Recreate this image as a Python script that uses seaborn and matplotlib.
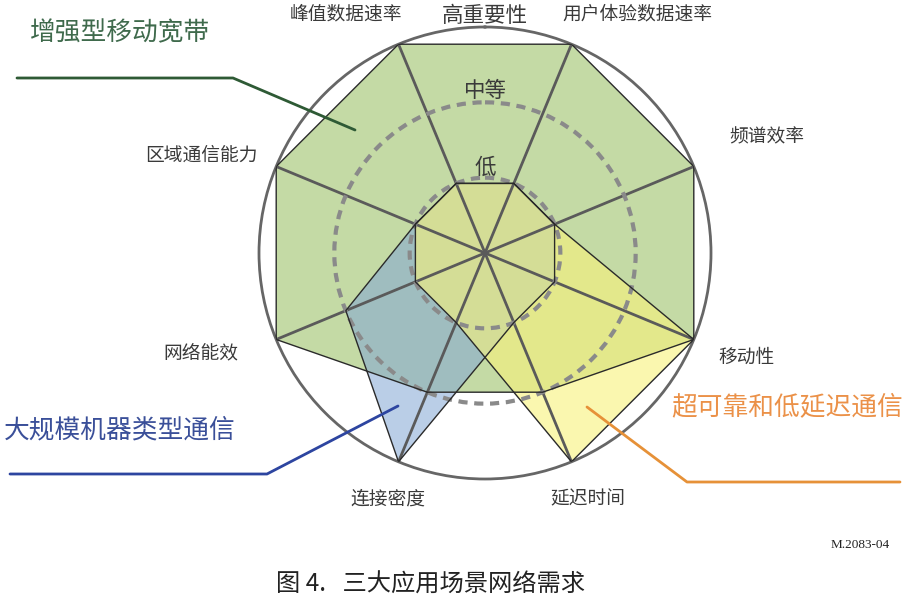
import numpy as np
import matplotlib
matplotlib.use('agg')
import matplotlib.pyplot as plt
import seaborn as sns

# key capabilities (clockwise from top-left)
capabilities = ['峰值数据速率', '用户体验数据速率', '频谱效率', '移动性',
                '延迟时间', '连接密度', '网络能效', '区域通信能力']
# importance: 1 = 低, 2 = 中等, 3 = 高重要性
embb = [3, 3, 3, 3, 2, 2, 3, 3]
mmtc = [1, 1, 1, 1, 1, 3, 2, 1]
urllc = [1, 1, 1, 3, 3, 1, 1, 1]
level_names = ['低', '中等', '高重要性']
scenario_names = ['增强型移动宽带', '大规模机器类型通信', '超可靠和低延迟通信']

sns.set_theme(style='white')
plt.rcParams['font.family'] = ['Noto Sans CJK SC', 'DejaVu Sans']

W, H = 905, 608
cx, cy, R = 485, 253, 226
fig = plt.figure(figsize=(W / 100, H / 100), dpi=100)
ax = fig.add_axes([(cx - R) / W, (H - cy - R) / H, 2 * R / W, 2 * R / H],
                  projection='polar')
ax.set_theta_zero_location('N')
ax.set_theta_direction(-1)

angles = np.deg2rad(np.arange(len(capabilities)) * 45 - 22.5)
closed = np.append(angles, angles[0] + 2 * np.pi)

fills = {'embb': '#c4daa5', 'mmtc': '#82a6d5', 'urllc': '#f8f37b'}
alphas = {'embb': 1.0, 'mmtc': 0.55, 'urllc': 0.6}
series = {'embb': embb, 'mmtc': mmtc, 'urllc': urllc}
for key in ['embb', 'mmtc', 'urllc']:
    vals = np.append(series[key], series[key][0])
    ax.fill(closed, vals, color=fills[key], alpha=alphas[key], lw=0, zorder=1)
for key in ['embb', 'mmtc', 'urllc']:
    vals = np.append(series[key], series[key][0])
    sns.lineplot(x=closed, y=vals, sort=False, estimator=None, ax=ax,
                 color='#2a2a2a', lw=1.0, zorder=3)

# spokes
for a in angles:
    ax.plot([a, a], [0, 3], color='#5a5a5a', lw=2, zorder=2, solid_capstyle='butt')

ax.set_ylim(0, 3)
ax.set_xticks([])
ax.set_yticks([1, 2])
ax.set_yticklabels([])
ax.set_axisbelow(False)
ax.yaxis.grid(True, color='#8a8a8a', lw=3, ls=(0, (2.2, 1.6)))
ax.xaxis.grid(False)
ax.spines['polar'].set_color('#666666')
ax.spines['polar'].set_linewidth(2)
ax.set_xlabel('')
ax.set_ylabel('')
ax.patch.set_alpha(0)

# overlay in pixel coords for labels and leader lines
ov = fig.add_axes([0, 0, 1, 1], zorder=5)
ov.set_xlim(0, W)
ov.set_ylim(H, 0)
ov.axis('off')
ov.patch.set_alpha(0)

label_pos = [(346, 14), (637, 14), (767, 137), (747, 357),
             (588, 499), (388, 499), (201, 353), (201, 155)]
for name, (x, y) in zip(capabilities, label_pos):
    ov.text(x, y, name, ha='center', va='center', fontsize=13.5, color='#3a3a3a')

level_pos = [(485, 168), (485, 91), (485, 16)]
for name, (x, y) in zip(level_names, level_pos):
    ov.text(x, y, name, ha='center', va='center', fontsize=15.5, color='#3a3a3a')

text_colors = ['#3f6a4c', '#3a4f99', '#eb9148']
line_colors = ['#2e5a35', '#2d45a0', '#e69138']
text_pos = [(120, 33), (120, 430), (787, 407)]
leaders = [([17, 233, 355], [78, 78, 130]),
           ([10, 267, 398], [474, 474, 406]),
           ([587, 687, 900], [407, 482, 482])]
for name, (x, y), tc, lc, (lx, ly) in zip(scenario_names, text_pos, text_colors,
                                          line_colors, leaders):
    ov.text(x, y, name, ha='center', va='center', fontsize=18.5, color=tc)
    ov.plot(lx, ly, color=lc, lw=2)

ov.text(860, 545, 'M.2083-04', ha='center', va='center', fontsize=9.5,
        family='Liberation Serif', color='#222222')
ov.text(430, 585, '图 4.   三大应用场景网络需求', ha='center', va='center',
        fontsize=17.5, color='#222222')

fig.savefig('out.png', dpi=100)
plt.close(fig)
